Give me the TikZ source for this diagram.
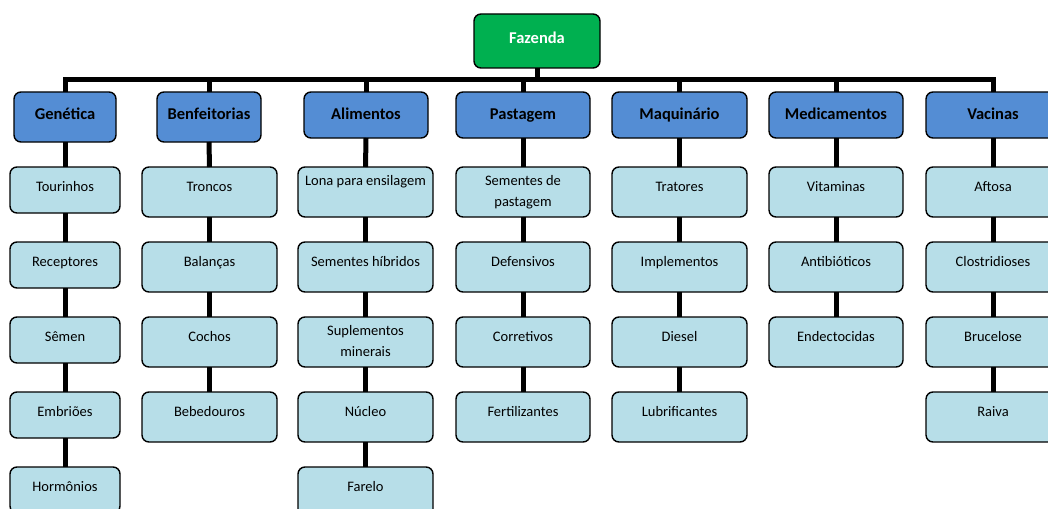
\documentclass[tikz,border=0pt]{standalone}
\usepackage{fontspec}
\setmainfont{Carlito}
\definecolor{fazgreen}{HTML}{00B050}
\definecolor{catblue}{HTML}{548DD4}
\definecolor{itemteal}{HTML}{B7DEE8}
\newcommand\bxt[4]{\parbox[c][#1pt][t]{#2pt}{\centering\rule{0pt}{#3pt}#4}}
\tikzset{
  base/.style={draw=black, line width=1.4pt, rounded corners=7pt, inner sep=0pt, outer sep=0pt},
  farm/.style={base, fill=fazgreen, text=white, font=\fontsize{16.5}{20}\selectfont\bfseries},
  cat/.style={base, fill=catblue, font=\fontsize{16.5}{20}\selectfont\bfseries},
  item/.style={base, fill=itemteal, font=\fontsize{14.5}{21}\selectfont},
  conn/.style={line width=5pt, line join=miter, draw=black}
}
\begin{document}
\begin{tikzpicture}[x=1pt, y=-1pt]
\useasboundingbox (0,0) rectangle (1048,508);
% root
\node[farm] (faz) at (537,41) {\bxt{54}{126}{30}{Fazenda}};
% categories
\node[cat] (gen) at (65,117) {\bxt{50}{102}{27}{Genética}};
\node[cat] (ben) at (209,117) {\bxt{50}{104}{27}{Benfeitorias}};
\node[cat] (ali) at (366,115) {\bxt{46}{124}{27}{Alimentos}};
\node[cat] (pas) at (523,115) {\bxt{46}{134}{27}{Pastagem}};
\node[cat] (maq) at (679.5,115) {\bxt{46}{135}{27}{Maquinário}};
\node[cat] (med) at (836,115) {\bxt{46}{134}{27}{Medicamentos}};
\node[cat] (vac) at (993,115) {\bxt{46}{134}{27}{Vacinas}};
% Genetica
\node[item] (gen1) at (65,190) {\bxt{46}{110}{24}{Tourinhos}};
\node[item] (gen2) at (65,265) {\bxt{46}{110}{24}{Receptores}};
\node[item] (gen3) at (65,340) {\bxt{46}{110}{24}{Sêmen}};
\node[item] (gen4) at (65,415) {\bxt{46}{110}{24}{Embriões}};
\node[item] (gen5) at (65,490) {\bxt{46}{110}{24}{Hormônios}};
% Benfeitorias
\node[item] (ben1) at (209.5,192) {\bxt{50}{135}{24}{Troncos}};
\node[item] (ben2) at (209.5,267) {\bxt{50}{135}{24}{Balanças}};
\node[item] (ben3) at (209.5,342) {\bxt{50}{135}{24}{Cochos}};
\node[item] (ben4) at (209.5,417) {\bxt{50}{135}{24}{Bebedouros}};
% Alimentos
\node[item] (ali1) at (365.5,192) {\bxt{50}{135}{18}{Lona para ensilagem}};
\node[item] (ali2) at (365.5,267) {\bxt{50}{135}{24}{Sementes híbridos}};
\node[item] (ali3) at (365.5,342) {\bxt{50}{135}{18}{Suplementos\\minerais}};
\node[item] (ali4) at (365.5,417) {\bxt{50}{135}{24}{Núcleo}};
\node[item] (ali5) at (365.5,492) {\bxt{50}{135}{24}{Farelo}};
% Pastagem
\node[item] (pas1) at (523,192) {\bxt{50}{134}{18}{Sementes de\\pastagem}};
\node[item] (pas2) at (523,267) {\bxt{50}{134}{24}{Defensivos}};
\node[item] (pas3) at (523,342) {\bxt{50}{134}{24}{Corretivos}};
\node[item] (pas4) at (523,417) {\bxt{50}{134}{24}{Fertilizantes}};
% Maquinario
\node[item] (maq1) at (679.5,192) {\bxt{50}{135}{24}{Tratores}};
\node[item] (maq2) at (679.5,267) {\bxt{50}{135}{24}{Implementos}};
\node[item] (maq3) at (679.5,342) {\bxt{50}{135}{24}{Diesel}};
\node[item] (maq4) at (679.5,417) {\bxt{50}{135}{24}{Lubrificantes}};
% Medicamentos
\node[item] (med1) at (836,192) {\bxt{50}{134}{24}{Vitaminas}};
\node[item] (med2) at (836,267) {\bxt{50}{134}{24}{Antibióticos}};
\node[item] (med3) at (836,342) {\bxt{50}{134}{24}{Endectocidas}};
% Vacinas
\node[item] (vac1) at (993,192) {\bxt{50}{134}{24}{Aftosa}};
\node[item] (vac2) at (993,267) {\bxt{50}{134}{24}{Clostridioses}};
\node[item] (vac3) at (993,342) {\bxt{50}{134}{24}{Brucelose}};
\node[item] (vac4) at (993,417) {\bxt{50}{134}{24}{Raiva}};
% connectors root -> categories
\foreach \c in {gen,ben,ali,pas,maq,med,vac}
  \draw[conn] (faz.south) -- ++(0,12) -| (\c.north);
% column connectors
\draw[conn] (gen.south) -- (gen1.north);
\draw[conn] (gen1.south) -- (gen2.north);
\draw[conn] (gen2.south) -- (gen3.north);
\draw[conn] (gen3.south) -- (gen4.north);
\draw[conn] (gen4.south) -- (gen5.north);
\draw[conn] (ben.south) -- (ben1.north);
\draw[conn] (ben1.south) -- (ben2.north);
\draw[conn] (ben2.south) -- (ben3.north);
\draw[conn] (ben3.south) -- (ben4.north);
\draw[conn] (ali.south) -- (ali1.north);
\draw[conn] (ali1.south) -- (ali2.north);
\draw[conn] (ali2.south) -- (ali3.north);
\draw[conn] (ali3.south) -- (ali4.north);
\draw[conn] (ali4.south) -- (ali5.north);
\draw[conn] (pas.south) -- (pas1.north);
\draw[conn] (pas1.south) -- (pas2.north);
\draw[conn] (pas2.south) -- (pas3.north);
\draw[conn] (pas3.south) -- (pas4.north);
\draw[conn] (maq.south) -- (maq1.north);
\draw[conn] (maq1.south) -- (maq2.north);
\draw[conn] (maq2.south) -- (maq3.north);
\draw[conn] (maq3.south) -- (maq4.north);
\draw[conn] (med.south) -- (med1.north);
\draw[conn] (med1.south) -- (med2.north);
\draw[conn] (med2.south) -- (med3.north);
\draw[conn] (vac.south) -- (vac1.north);
\draw[conn] (vac1.south) -- (vac2.north);
\draw[conn] (vac2.south) -- (vac3.north);
\draw[conn] (vac3.south) -- (vac4.north);
\end{tikzpicture}
\end{document}
